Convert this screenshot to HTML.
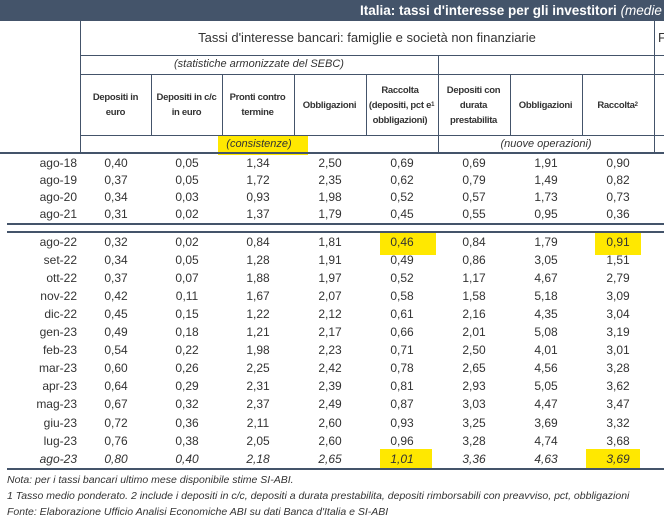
<!DOCTYPE html>
<html><head><meta charset="utf-8"><style>
html,body{margin:0;width:664px;height:522px;overflow:hidden}
body{background:#fff;position:relative;font-family:"Liberation Sans",sans-serif;color:#333}
.a{position:absolute}
.bar{left:0;top:0;width:664px;height:21px;background:#44546a;overflow:hidden}
.t{position:absolute;left:360px;top:3px;color:#fff;font-weight:bold;font-size:13.5px;white-space:nowrap}
.hl{background:#ffe800}
.vl{position:absolute;width:1px;background:#44546a}
.hz{position:absolute;height:1px;background:#44546a}
.th{position:absolute;top:75px;height:60px;width:71px;display:flex;align-items:center;justify-content:center;text-align:center;font-weight:bold;font-size:9.5px;letter-spacing:-0.3px;line-height:15px;color:#333;white-space:nowrap}
.r{position:absolute;height:17px;font-size:12px;line-height:17px}
.r span{position:absolute;width:72px;text-align:center}
.r b{position:absolute;right:0;font-weight:normal;width:77px;text-align:right}
.it{font-style:italic}
.n{position:absolute;left:7px;font-size:10.5px;font-style:italic;white-space:nowrap}
</style></head><body>
<div class="a bar"><div class="t">Italia: tassi d'interesse per gli investitori <i style="font-weight:normal">(medie m</i></div></div>

<div class="a hl" style="left:218px;top:135px;width:90px;height:20px"></div>
<div class="a hl" style="left:380px;top:232px;width:56px;height:23px"></div>
<div class="a hl" style="left:595px;top:232px;width:46px;height:23px"></div>
<div class="a hl" style="left:380px;top:449px;width:52px;height:20px"></div>
<div class="a hl" style="left:586px;top:449px;width:54px;height:20px"></div>

<div class="vl" style="left:80px;top:21px;height:132px"></div>
<div class="vl" style="left:654px;top:21px;height:132px"></div>
<div class="vl" style="left:438px;top:56px;height:97px"></div>
<div class="vl" style="left:151px;top:75px;height:60px"></div>
<div class="vl" style="left:222px;top:75px;height:60px"></div>
<div class="vl" style="left:294px;top:75px;height:60px"></div>
<div class="vl" style="left:366px;top:75px;height:60px"></div>
<div class="vl" style="left:510px;top:75px;height:60px"></div>
<div class="vl" style="left:582px;top:75px;height:60px"></div>
<div class="hz" style="left:80px;top:55px;width:584px"></div>
<div class="hz" style="left:80px;top:74px;width:584px"></div>
<div class="hz" style="left:80px;top:135px;width:584px"></div>
<div class="hz" style="left:0;top:152px;width:664px;height:2px"></div>
<div class="hz" style="left:7px;top:223px;width:657px;height:2px"></div>
<div class="hz" style="left:7px;top:231px;width:657px;height:2px"></div>
<div class="hz" style="left:7px;top:468px;width:657px;height:2px"></div>

<div class="a" style="left:80px;top:30px;width:574px;text-align:center;font-size:13px">Tassi d'interesse bancari: famiglie e società non finanziarie</div>
<div class="a" style="left:658px;top:30px;font-size:13px">F</div>
<div class="a it" style="left:80px;top:58px;width:358px;text-align:center;font-size:11px">(statistiche armonizzate del SEBC)</div>
<div class="a it" style="left:80px;top:138px;width:358px;text-align:center;font-size:11px">(consistenze)</div>
<div class="a it" style="left:438px;top:138px;width:216px;text-align:center;font-size:11px">(nuove operazioni)</div>

<div class="th" style="left:80px">Depositi in<br>euro</div>
<div class="th" style="left:151px">Depositi in c/c<br>in euro</div>
<div class="th" style="left:222px">Pronti contro<br>termine</div>
<div class="th" style="left:294px">Obbligazioni</div>
<div class="th" style="left:366px">Raccolta<br>(depositi, pct e<br>obbligazioni)<sup style="font-size:6px;line-height:0">1</sup></div>
<div class="th" style="left:438px">Depositi con<br>durata<br>prestabilita</div>
<div class="th" style="left:510px">Obbligazioni</div>
<div class="th" style="left:582px">Raccolta<sup style="font-size:6px;line-height:0">2</sup></div>

<div id="rows"></div>
<script>
var d=[["ago-18","0,40","0,05","1,34","2,50","0,69","0,69","1,91","0,90",155],
["ago-19","0,37","0,05","1,72","2,35","0,62","0,79","1,49","0,82",172],
["ago-20","0,34","0,03","0,93","1,98","0,52","0,57","1,73","0,73",189],
["ago-21","0,31","0,02","1,37","1,79","0,45","0,55","0,95","0,36",206]];
var m=["ago-22","set-22","ott-22","nov-22","dic-22","gen-23","feb-23","mar-23","apr-23","mag-23","giu-23","lug-23","ago-23"];
var v=[["0,32","0,02","0,84","1,81","0,46","0,84","1,79","0,91"],["0,34","0,05","1,28","1,91","0,49","0,86","3,05","1,51"],["0,37","0,07","1,88","1,97","0,52","1,17","4,67","2,79"],["0,42","0,11","1,67","2,07","0,58","1,58","5,18","3,09"],["0,45","0,15","1,22","2,12","0,61","2,16","4,35","3,04"],["0,49","0,18","1,21","2,17","0,66","2,01","5,08","3,19"],["0,54","0,22","1,98","2,23","0,71","2,50","4,01","3,01"],["0,60","0,26","2,25","2,42","0,78","2,65","4,56","3,28"],["0,64","0,29","2,31","2,39","0,81","2,93","5,05","3,62"],["0,67","0,32","2,37","2,49","0,87","3,03","4,47","3,47"],["0,72","0,36","2,11","2,60","0,93","3,25","3,69","3,32"],["0,76","0,38","2,05","2,60","0,96","3,28","4,74","3,68"],["0,80","0,40","2,18","2,65","1,01","3,36","4,63","3,69"]];
for(var i=0;i<13;i++){d.push([m[i]].concat(v[i]).concat([234+i*18.05]));}
var h="",L=[80,151,222,294,366,438,510,582];
d.forEach(function(r,k){h+='<div class="r'+(k==16?' it':'')+'" style="left:0;width:664px;top:'+r[9]+'px"><b style="left:0">'+r[0]+'</b>';
for(var j=1;j<9;j++)h+='<span style="left:'+L[j-1]+'px">'+r[j]+'</span>';h+='</div>';});
document.getElementById('rows').innerHTML=h;
</script>

<div class="n" style="top:474px">Nota: per i tassi bancari ultimo mese disponibile stime SI-ABI.</div>
<div class="n" style="top:490px">1 Tasso medio ponderato. 2 include i depositi in c/c, depositi a durata prestabilita, depositi rimborsabili con preavviso, pct, obbligazioni</div>
<div class="n" style="top:506px">Fonte: Elaborazione Ufficio Analisi Economiche ABI su dati Banca d'Italia e SI-ABI</div>
</body></html>
